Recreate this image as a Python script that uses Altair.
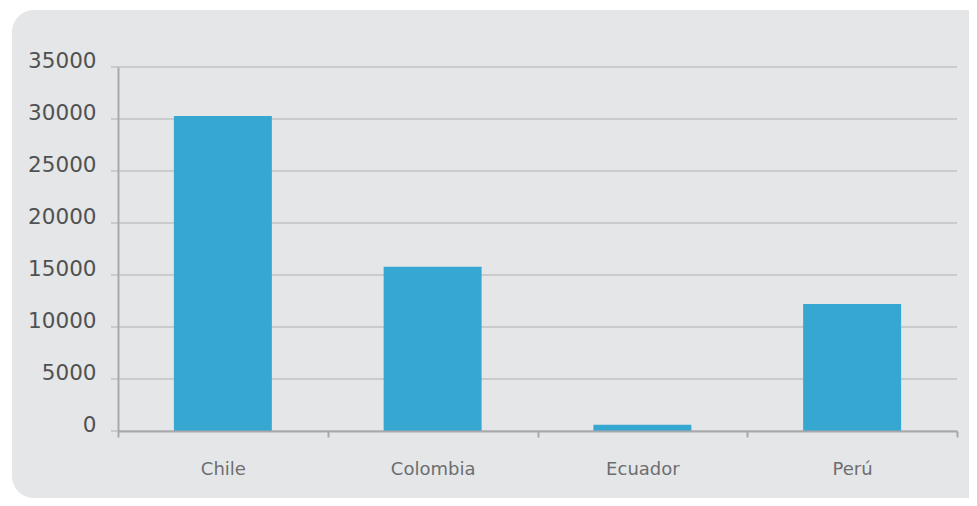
import altair as alt
import pandas as pd

# Data
countries = ["Chile", "Colombia", "Ecuador", "Perú"]
values = [30300, 15800, 600, 12200]
y_ticks = [0, 5000, 10000, 15000, 20000, 25000, 30000, 35000]

PLOT_W = 839
PLOT_H = 364

df = pd.DataFrame({"country": countries, "value": values})
grid_df = pd.DataFrame({"value": y_ticks})
bg_df = pd.DataFrame({"k": [0]})

y_scale = alt.Scale(domain=[0, 35000], nice=False, zero=True)
y_axis = alt.Axis(
    values=y_ticks, title=None, grid=False, ticks=False, format="d",
    domainColor="#a7a9ac", domainWidth=2,
    labelFont="DejaVu Sans", labelFontSize=21.5, labelColor="#505153",
    labelPadding=22, labelBaseline="alphabetic", zindex=1,
)
x_axis = alt.Axis(
    title=None, grid=False, labelAngle=0, tickBand="extent",
    tickSize=6, tickWidth=2, tickColor="#a7a9ac",
    domainColor="#a7a9ac", domainWidth=2,
    labelFont="DejaVu Sans", labelFontSize=18, labelColor="#6d6e70",
    labelPadding=23, labelBaseline="top", zindex=1,
)
x_enc = alt.X("country:N", sort=countries, axis=x_axis,
              scale=alt.Scale(paddingInner=0, paddingOuter=0))

bg = alt.Chart(bg_df).mark_rect(
    color="#e5e6e8", cornerRadius=22
).encode(
    x=alt.value(-106), x2=alt.value(PLOT_W + 200),
    y=alt.value(-57), y2=alt.value(PLOT_H + 67),
)

grid = alt.Chart(grid_df).mark_rule(color="#c1c2c4", strokeWidth=1.5).encode(
    y=alt.Y("value:Q", scale=y_scale, axis=y_axis),
    x=alt.value(-7), x2=alt.value(PLOT_W),
)

bars = alt.Chart(df).mark_bar(
    color="#36a7d0", width=alt.RelativeBandSize(0.467)
).encode(
    x=x_enc,
    y=alt.Y("value:Q", scale=y_scale, axis=y_axis),
)

chart = alt.layer(bg, grid, bars).properties(
    width=PLOT_W, height=PLOT_H,
    padding={"left": 110, "top": 59, "right": 12, "bottom": 67},
    autosize=alt.AutoSizeParams(type="none"),
    background="white",
).configure_view(stroke=None)

chart.save("out.html", embed_options={"renderer": "svg", "actions": False})
